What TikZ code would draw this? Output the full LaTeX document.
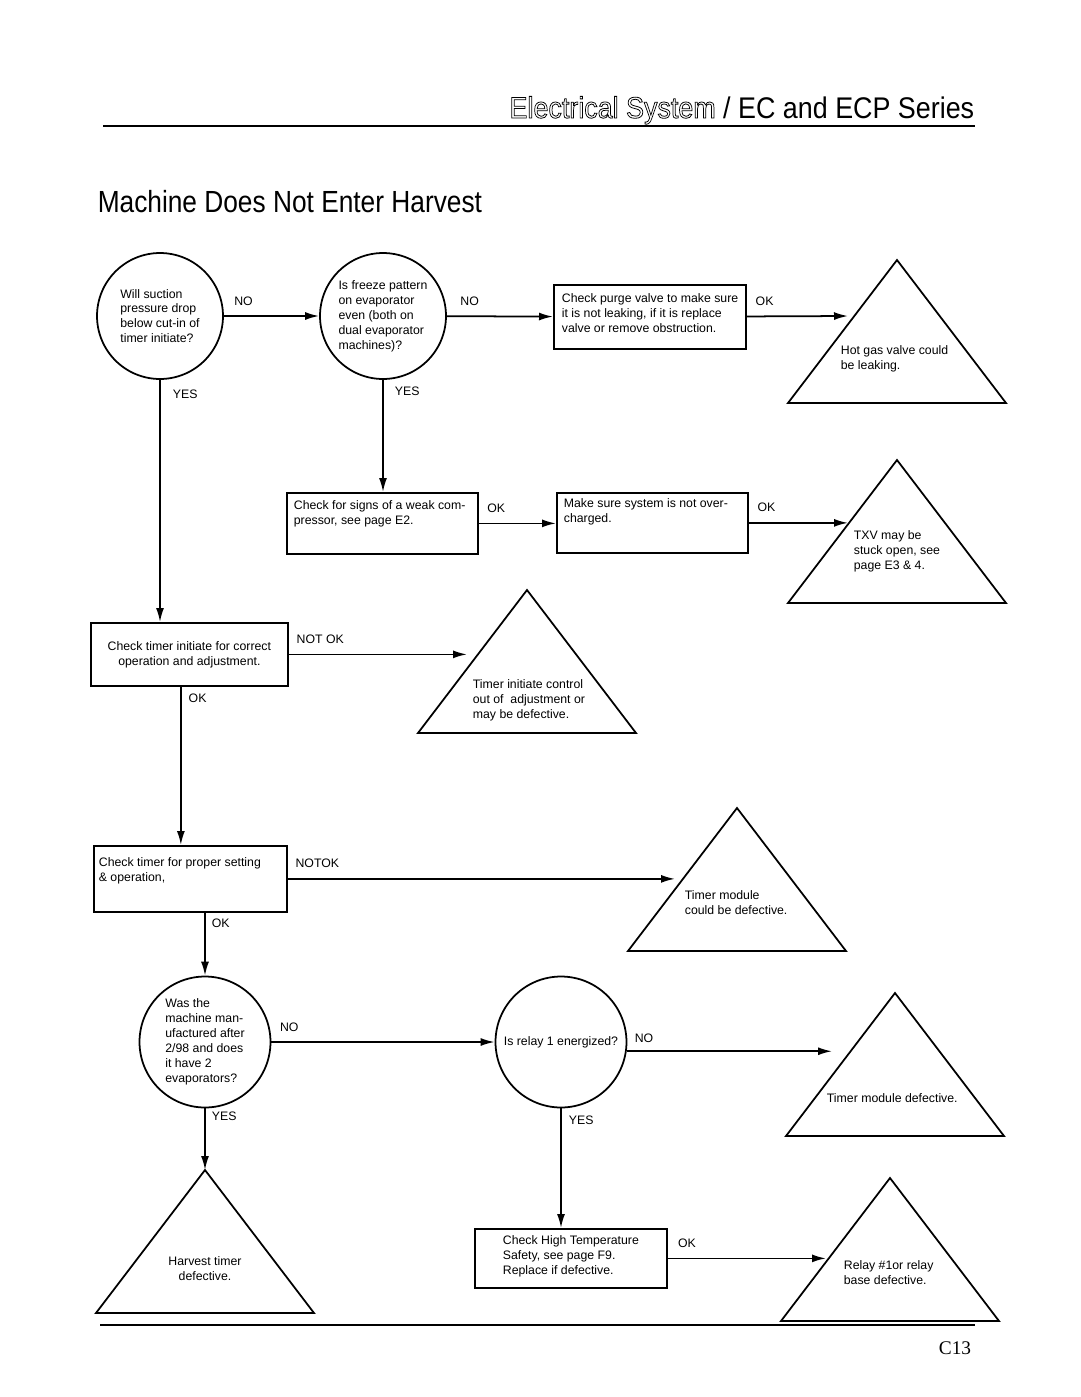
\documentclass[tikz,border=0pt]{standalone}
\usepackage{fontspec}
\setmainfont{Liberation Sans}
\newfontfamily\pageserif{Liberation Serif}
\usetikzlibrary{arrows.meta, positioning}

% outlined lettering for the section heading
\newcommand\hollowword[1]{\special{pdf:literal direct 1 Tr 0.45 w}#1\special{pdf:literal direct 0 Tr}}

\begin{document}
\begin{tikzpicture}[x=0.02cm, y=-0.02cm, line width=1pt,
    font=\fontsize{7}{8.5}\selectfont,
    ask/.style={draw, circle, inner sep=0pt, align=left},
    chk/.style={draw, rectangle, anchor=north west, inner sep=0pt},
    txt/.style={anchor=north west, align=left, inner sep=0pt},
    tri/.style={draw, line join=miter},
    flow/.style={-{Latex[length=0.28cm, width=0.16cm]}},
    ans/.style={inner sep=0pt}]
    \useasboundingbox (0,0) rectangle (1080,1397);

    % heading
    \node[anchor=base east, inner sep=0pt, xscale=0.9, font=\fontsize{17}{20}\selectfont] (head) at (975,118) {\hollowword{Electrical System} / EC and ECP Series};
    \draw (103,126) -- (975,126);
    \node[anchor=base west, inner sep=0pt, xscale=0.86, font=\fontsize{17.4}{20}\selectfont] (title) at (97,212) {Machine Does Not Enter Harvest};

    % questions
    \node[ask, minimum size=2.52cm] (q1) at (160,316) {Will suction\\pressure drop\\below cut-in of\\timer initiate?};
    \node[ask, minimum size=2.52cm] (q2) at (383,316) {Is freeze pattern\\on evaporator\\even (both on\\dual evaporator\\machines)?};
    \node[ask, minimum size=2.62cm] (q3) at (205,1042) {Was the\\machine man-\\ufactured after\\2/98 and does\\it have 2\\evaporators?};
    \node[ask, minimum size=2.62cm] (q4) at (561,1042) {Is relay 1 energized?};

    % checks
    \node[chk, minimum width=3.84cm, minimum height=1.28cm] (b1) at (553,284) {};
    \node[txt] (b1t) at (561,293) {Check purge valve to make sure\\it is not leaking, if it is replace\\valve or remove obstruction.};
    \node[chk, minimum width=3.82cm, minimum height=1.22cm] (b2) at (286,492) {};
    \node[txt] (b2t) at (293,500) {Check for signs of a weak com-\\pressor, see page E2.};
    \node[chk, minimum width=3.82cm, minimum height=1.2cm] (b3) at (556,492) {};
    \node[txt] (b3t) at (563,498) {Make sure system is not over-\\charged.};
    \node[chk, align=center, minimum width=3.94cm, minimum height=1.26cm] (b4) at (90,622) {Check timer initiate for correct\\operation and adjustment.};
    \node[chk, minimum width=3.86cm, minimum height=1.32cm] (b5) at (93,845) {};
    \node[txt] (b5t) at (98,857) {Check timer for proper setting\\\& operation,};
    \node[chk, minimum width=3.84cm, minimum height=1.18cm] (b6) at (474,1228) {};
    \node[txt] (b6t) at (502,1235) {Check High Temperature\\Safety, see page F9.\\Replace if defective.};

    % results
    \coordinate (t1) at (897,260);
    \coordinate (t2) at (897,460);
    \coordinate (t3) at (527,590);
    \coordinate (t4) at (737,808);
    \coordinate (t5) at (895,993);
    \coordinate (t6) at (205,1170);
    \coordinate (t7) at (890,1178);
    \foreach \i in {1,...,7}
        \draw[tri] (t\i) -- ++(-109,143) -- ++(218,0) -- cycle;
    \node[txt] (t1t) at (840,345) {Hot gas valve could\\be leaking.};
    \node[txt] (t2t) at (853,530) {TXV may be\\stuck open, see\\page E3 \& 4.};
    \node[txt] (t3t) at (472,679) {Timer initiate control\\out of\ \ adjustment or\\may be defective.};
    \node[txt] (t4t) at (684,890) {Timer module\\could be defective.};
    \node[txt] (t5t) at (826,1093) {Timer module defective.};
    \node[txt, anchor=north, align=center] (t6t) at (205,1256) {Harvest timer\\defective.};
    \node[txt] (t7t) at (843,1260) {Relay \#1or relay\\base defective.};

    \coordinate (hotin) at (848,316);
    \coordinate (txvin) at (848,522);
    \coordinate (ticin) at (467,654);
    \coordinate (tmin) at (675,878);
    \coordinate (tmdin) at (832,1051);
    \coordinate (rlyin) at (826,1257);

    % connectors
    \draw[flow] (q1) -- node[ans, pos=0.1, anchor=south west, yshift=0.2cm] (n1) {NO} (q2);
    \draw[flow] (q2) -- node[ans, pos=0.12, anchor=south west, yshift=0.2cm] (n2) {NO} (b1);
    \draw[flow] (b1) -- node[ans, pos=0.08, anchor=south west, yshift=0.2cm] (k1) {OK} (hotin);
    \draw[flow] (q1) -- node[ans, pos=0.058, anchor=west, xshift=0.24cm] (y1) {YES} (q1 |- b4.north);
    \draw[flow] (q2) -- node[ans, pos=0.1, anchor=west, xshift=0.22cm] (y2) {YES} (q2 |- b2.north);
    \draw[flow] (b2.east) -- node[ans, pos=0.1, anchor=south west, yshift=0.2cm] (k2) {OK} (b2.east -| b3.west);
    \draw[flow] (b3.east) -- node[ans, pos=0.08, anchor=south west, yshift=0.2cm] (k3) {OK} (b3.east -| txvin);
    \draw[flow] (b4.east) -- node[ans, pos=0.04, anchor=south west, yshift=0.2cm] (nk1) {NOT OK} (b4.east -| ticin);
    \draw[flow] ([xshift=-0.17cm]b4.south) -- node[ans, pos=0.07, anchor=west, xshift=0.14cm] (k4) {OK} ([xshift=-0.17cm]b4.south |- b5.north);
    \draw[flow] (b5.east) -- node[ans, pos=0.018, anchor=south west, yshift=0.2cm] (nk2) {NOTOK} (b5.east -| tmin);
    \draw[flow] (q3 |- b5.south) -- node[ans, pos=0.17, anchor=west, xshift=0.12cm] (k5) {OK} (q3);
    \draw[flow] (q3) -- node[ans, pos=0.035, anchor=south west, yshift=0.2cm] (n3) {NO} (q4);
    \draw[flow] (q4.-8) -- node[ans, pos=0.035, anchor=south west, yshift=0.16cm] (n4) {NO} (q4.-8 -| tmdin);
    \draw[flow] (q3) -- node[ans, pos=0.13, anchor=west, xshift=0.12cm] (y3) {YES} (t6);
    \draw[flow] (q4) -- node[ans, pos=0.1, anchor=west, xshift=0.14cm] (y4) {YES} (q4 |- b6.north);
    \draw[flow] (b6.east) -- node[ans, pos=0.06, anchor=south west, yshift=0.2cm] (k6) {OK} (b6.east -| rlyin);

    % foot
    \draw (100,1325) -- (975,1325);
    \node[font=\pageserif\fontsize{11}{13}\selectfont] (pg) at (955,1348) {C13};
\end{tikzpicture}
\end{document}
